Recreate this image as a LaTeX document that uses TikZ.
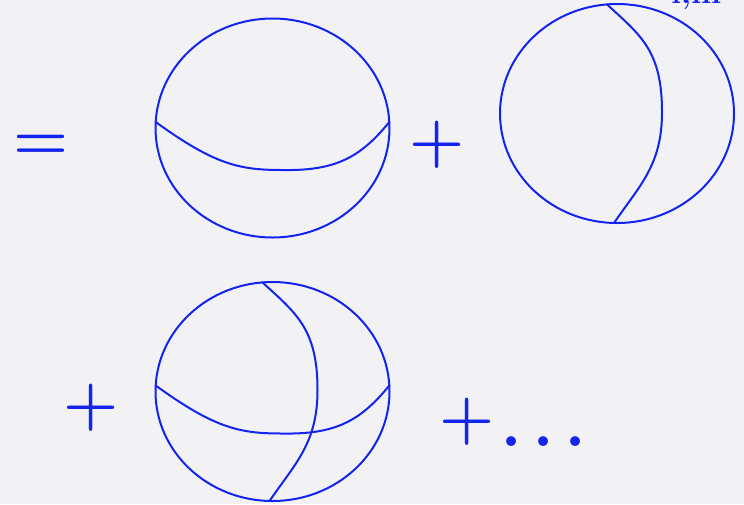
\documentclass[tikz,border=0pt]{standalone}
\usepackage{fix-cm}
\usepackage{xcolor}
\definecolor{dgblue}{HTML}{1424F0}
\definecolor{dgpaper}{HTML}{F2F2F5}
\usepackage{tikz}
\tikzset{
  every picture/.style={line cap=round, line join=round},
  sphere/.style={dgblue, line width=2pt},
  seam/.style={dgblue, line width=2pt},
  sym/.style={text=dgblue, inner sep=0pt, anchor=base, font=\fontsize{63}{70}\selectfont\bfseries\boldmath},
  idx/.style={text=dgblue, inner sep=0pt, anchor=base west, font=\fontsize{32}{36}\selectfont\bfseries},
  horizseam/.pic={
    \draw[seam] (-116.8,-6) .. controls (-57.5,37) and (-32.5,42) .. (9.5,42)
      .. controls (62.5,43) and (87.5,30) .. (116.8,-6);
  },
  vertseam/.pic={
    \draw[seam] (-10,-109.1) .. controls (23,-78.5) and (45,-63.5) .. (45,-1.5)
      .. controls (45,51.5) and (23,71.5) .. (-3,109.5);
  },
}

\begin{document}
\begin{tikzpicture}[x=1pt, y=-1pt]
\useasboundingbox (0,0) rectangle (744,504);
\fill[dgpaper] (0,0) rectangle (744,504);
% the three spheres
\coordinate (sph1) at (272.5,128);
\coordinate (sph2) at (617,113.5);
\coordinate (sph3) at (272.5,391.5);
\foreach \s in {sph1,sph2,sph3}
  \draw[sphere] (\s) ellipse [x radius=117pt, y radius=109.5pt];
\pic at (sph1) {horizseam};
\pic at (sph2) {vertseam};
\pic at (sph3) {horizseam};
\pic at (sph3) {vertseam};
% signs
\node[sym] (eq) at (41.5,159.8) {=};
\node[sym] (plusa) at (437,160.5) {+};
\node[sym] (plusb) at (91.5,423.3) {+};
\node[sym] (plusc) at (467.5,437.3) {+};
\node[sym, anchor=base west] (dots) at (501,446.7) {$\ldots$};
% clipped index
\node[idx] (lm) at (671,3.5) {l,m};
\end{tikzpicture}
\end{document}
